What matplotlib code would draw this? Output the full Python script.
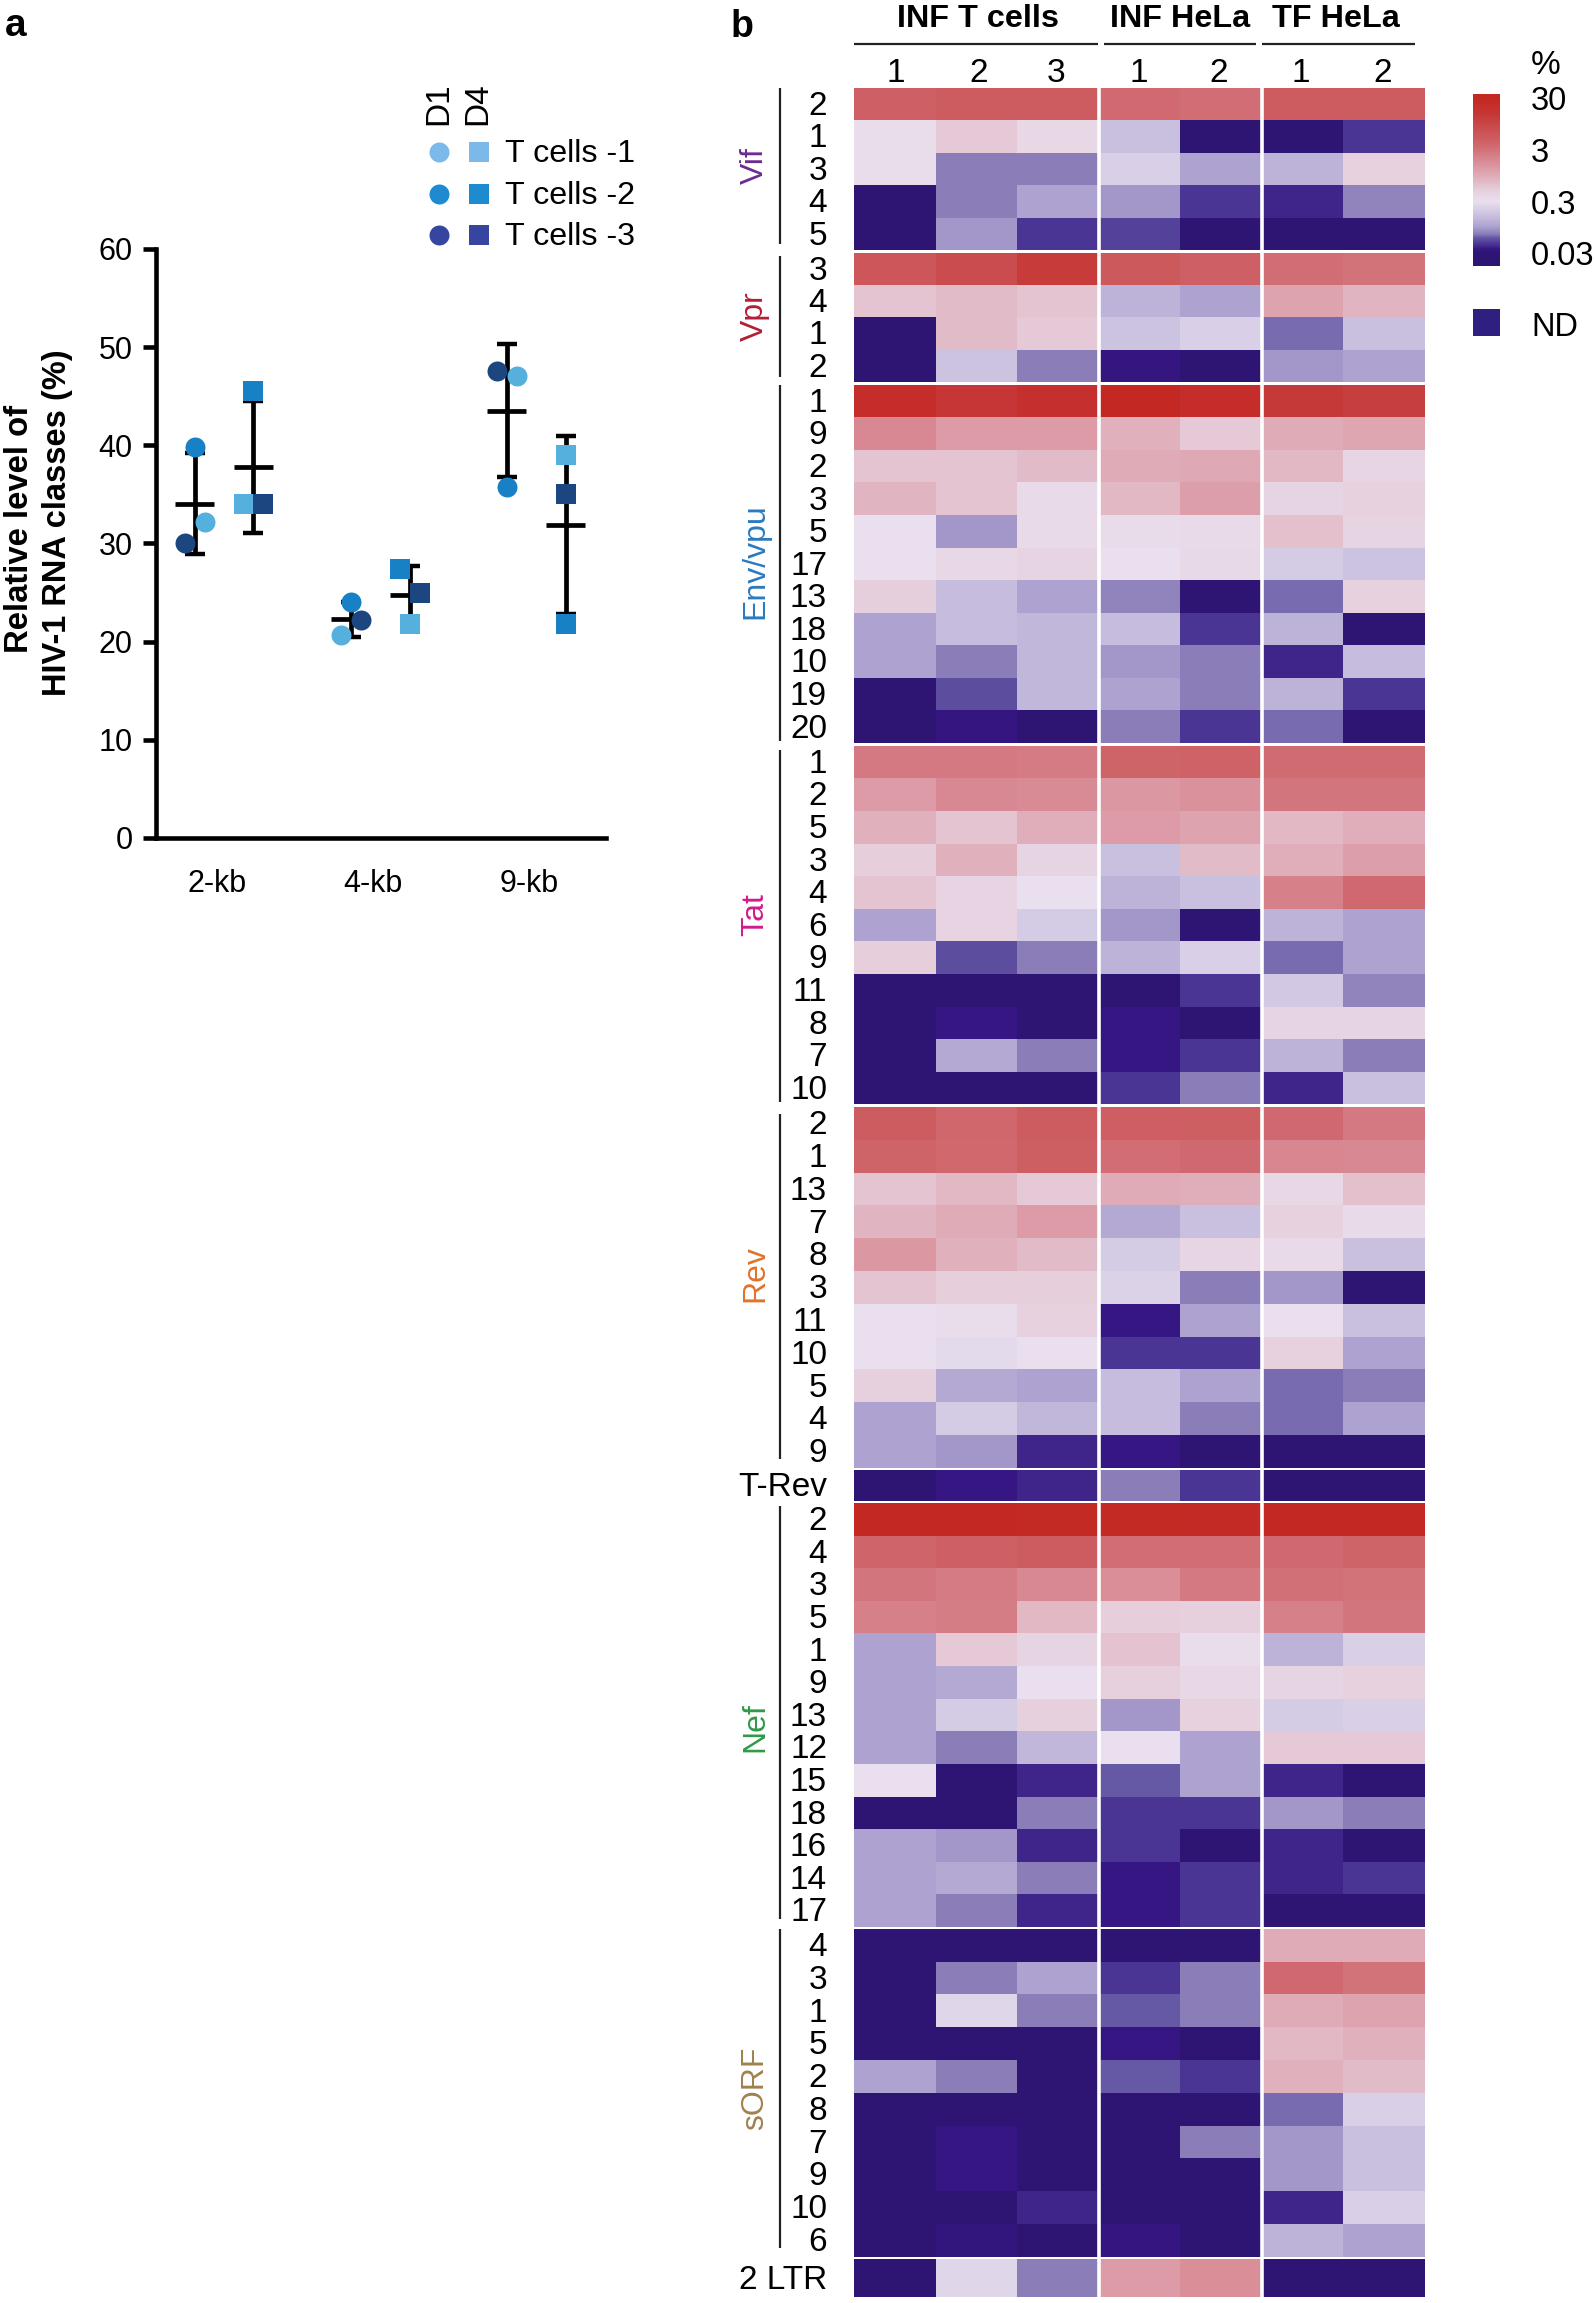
import numpy as np
import matplotlib
matplotlib.use("Agg")
import matplotlib.pyplot as plt
from matplotlib.colors import LinearSegmentedColormap, LogNorm
from matplotlib.cm import ScalarMappable
from matplotlib.lines import Line2D
from matplotlib.patches import Rectangle
from matplotlib.transforms import ScaledTranslation

plt.rcParams['font.family'] = ['Liberation Sans', 'DejaVu Sans']

W, H = 1594, 2303

# ---------- panel a data ----------
size_classes = ["2-kb", "4-kb", "9-kb"]
legend_names = ["T cells -1", "T cells -2", "T cells -3"]
d1_values = [[32.2, 39.8, 30.1], [20.7, 24.0, 22.2], [47.1, 35.8, 47.6]]
d4_values = [[34.0, 45.5, 34.0], [21.8, 27.4, 25.0], [39.0, 21.8, 35.0]]
d1_mean = [34.0, 22.3, 43.5]
d4_mean = [37.8, 24.8, 31.9]
d1_low = [28.9, 20.5, 36.8]
d1_high = [39.2, 24.0, 50.3]
d4_low = [31.1, 22.0, 22.8]
d4_high = [44.5, 27.7, 41.0]
# sideways nudge of each replicate (-1 left, 0 on the line, 1 right)
d1_nudge = [[1, 0, -1], [-1, 0, 1], [1, 0, -1]]
d4_nudge = [[-1, 0, 1], [0, -1, 1], [0, 0, 0]]

point_colors = ["#55B0DD", "#1880C4", "#1C4680"]
legend_d1_colors = ["#7AB9EA", "#1E8AD0", "#3545A0"]
legend_d4_colors = ["#7AB9EA", "#1E8AD0", "#3545A0"]

# ---------- panel b data (% of reads, one row per RNA) ----------
experiments = ["INF T cells", "INF HeLa", "TF HeLa"]
replicates = ["1", "2", "3", "1", "2", "1", "2"]

vif_rows = ["2", "1", "3", "4", "5"]
vif_vals = [[4.5, 5, 5, 3.5, 3.2, 5, 5],
            [.32, .55, .38, .16, .03, .03, .045],
            [.32, .07, .07, .22, .1, .13, .45],
            [.03, .07, .1, .09, .045, .04, .075],
            [.03, .09, .045, .05, .03, .03, .03]]

vpr_rows = ["3", "4", "1", "2"]
vpr_vals = [[6, 8, 13, 5.5, 4.5, 3.2, 3],
            [.6, .7, .6, .13, .1, 1.1, .8],
            [.03, .7, .55, .17, .22, .065, .16],
            [.03, .17, .07, .035, .03, .09, .1]]

env_rows = ["1", "9", "2", "3", "5", "17", "13", "18", "10", "19", "20"]
env_vals = [[22, 15, 20, 30, 22, 14, 12],
            [1.9, 1.3, 1.3, .85, .55, .95, 1.05],
            [.6, .6, .7, .95, 1.0, .75, .4],
            [.8, .6, .35, .75, 1.2, .42, .45],
            [.3, .09, .35, .33, .35, .65, .42],
            [.3, .38, .42, .3, .36, .2, .17],
            [.48, .15, .1, .075, .03, .065, .45],
            [.1, .15, .14, .15, .045, .13, .03],
            [.1, .07, .14, .09, .07, .04, .15],
            [.03, .055, .14, .1, .07, .13, .045],
            [.03, .035, .03, .07, .045, .065, .03]]

tat_rows = ["1", "2", "5", "3", "4", "6", "9", "11", "8", "7", "10"]
tat_vals = [[2.6, 2.6, 2.5, 4.2, 4.3, 3.4, 3.4],
            [1.3, 1.9, 1.8, 1.4, 1.6, 2.8, 2.8],
            [.85, .6, .9, 1.3, 1.1, .75, .9],
            [.5, .85, .42, .16, .7, .9, 1.2],
            [.6, .43, .3, .13, .16, 2.2, 3.6],
            [.1, .43, .2, .09, .03, .13, .1],
            [.5, .055, .07, .13, .22, .065, .1],
            [.03, .03, .03, .03, .045, .19, .075],
            [.03, .036, .03, .036, .03, .42, .42],
            [.03, .11, .07, .036, .045, .13, .07],
            [.03, .03, .03, .045, .07, .04, .16]]

rev_rows = ["2", "1", "13", "7", "8", "3", "11", "10", "5", "4", "9"]
rev_vals = [[5, 3.8, 5, 4.7, 4.8, 3.6, 2.6],
            [4.2, 3.7, 4.8, 3.3, 3.6, 2, 1.9],
            [.6, .75, .55, .95, .9, .38, .65],
            [.8, .95, 1.3, .11, .16, .45, .35],
            [1.4, .85, .7, .2, .4, .35, .16],
            [.6, .5, .5, .23, .07, .09, .03],
            [.3, .32, .45, .036, .1, .3, .16],
            [.3, .27, .3, .045, .045, .45, .1],
            [.47, .11, .1, .15, .1, .065, .07],
            [.1, .2, .14, .15, .07, .065, .1],
            [.1, .09, .04, .036, .03, .03, .03]]

trev_rows = ["T-Rev"]
trev_vals = [[.03, .036, .04, .07, .045, .03, .03]]

nef_rows = ["2", "4", "3", "5", "1", "9", "13", "12", "15", "18", "16", "14", "17"]
nef_vals = [[28, 28, 26, 26, 25, 28, 28],
            [4, 4.6, 5, 3.3, 3.3, 3.6, 4.2],
            [2.8, 2.5, 1.9, 1.7, 2.6, 3.1, 3],
            [2.2, 2.4, .75, .5, .47, 2.2, 2.8],
            [.1, .55, .42, .62, .32, .13, .22],
            [.1, .11, .3, .47, .38, .42, .46],
            [.1, .2, .47, .09, .45, .2, .22],
            [.1, .07, .14, .3, .1, .55, .55],
            [.3, .03, .04, .06, .1, .04, .03],
            [.03, .03, .07, .045, .045, .09, .07],
            [.1, .09, .04, .045, .03, .04, .03],
            [.1, .11, .07, .036, .045, .04, .045],
            [.1, .07, .04, .036, .045, .03, .03]]

sorf_rows = ["4", "3", "1", "5", "2", "8", "7", "9", "10", "6"]
sorf_vals = [[.03, .03, .03, .03, .03, .95, .95],
             [.03, .07, .1, .045, .07, 3.6, 3],
             [.03, .25, .07, .06, .07, .95, 1.1],
             [.03, .03, .03, .036, .03, .75, .85],
             [.1, .07, .03, .06, .045, .85, .7],
             [.03, .03, .03, .03, .03, .065, .22],
             [.03, .036, .03, .03, .07, .09, .16],
             [.03, .036, .03, .03, .03, .09, .16],
             [.03, .03, .04, .03, .03, .04, .22],
             [.03, .034, .03, .035, .03, .13, .1]]

ltr_rows = ["2 LTR"]
ltr_vals = [[.03, .25, .07, 1.3, 1.7, .03, .03]]

# colour scale: value -> colour
scale_values = [0.017, 0.03, 0.036, 0.045, 0.06, 0.07, 0.1, 0.16, 0.3, 0.5, 1.0, 1.8, 3.5, 5, 10, 15, 28, 36]
scale_colors = ["#2E1574", "#2E1574", "#361682", "#4A3594", "#6558A5", "#8A7DB8", "#AEA3D0", "#C9C0E0", "#E9DFEE",
                "#E6CEDB", "#DEA8B4", "#D98B95", "#D06A70", "#CD5C60", "#C84545", "#C63636", "#C42822", "#C42822"]
bar_ticks = [30, 3, 0.3, 0.03]
bar_labels = ["30", "3", "0.3", "0.03"]

norm = LogNorm(vmin=0.017, vmax=36)
cmap = LinearSegmentedColormap.from_list(
    "hiv", [(float(norm(v)), c) for v, c in zip(scale_values, scale_colors)], N=1024)


def px_axes(x0, y0, x1, y1):
    # axes from pixel box, y counted from the top
    return fig.add_axes([x0 / W, 1 - y1 / H, (x1 - x0) / W, (y1 - y0) / H])


def fig_line(x0, y0, x1, y1, lw=1.5, color='#222222'):
    fig.add_artist(Line2D([x0 / W, x1 / W], [1 - y0 / H, 1 - y1 / H], color=color, lw=lw,
                          solid_capstyle='butt'))


def fig_text(x, y, s, **kw):
    return fig.text(x / W, 1 - y / H, s, **kw)


fig = plt.figure(figsize=(W / 100, H / 100), dpi=100)

# ---------- panel a ----------
ax = px_axes(155.5, 249, 606, 838)
ax.set_ylim(0, 60)
ax.set_xlim(-0.44, 2.447)
for s in ['top', 'right']:
    ax.spines[s].set_visible(False)
for s in ['left', 'bottom']:
    ax.spines[s].set_linewidth(3.3)
ax.set_yticks(range(0, 61, 10))
ax.tick_params(axis='y', width=3.3, length=9.5, pad=7, labelsize=22)
ax.set_xticks(np.arange(3) - 0.045)
ax.set_xticklabels(size_classes)
ax.tick_params(axis='x', length=0, pad=22, labelsize=22)

day_shift = 0.188
nudge = 0.064
for i in range(3):
    for sign, mean, lo, hi, vals, nudges, marker in [
            (-1, d1_mean, d1_low, d1_high, d1_values, d1_nudge, 'o'),
            (1, d4_mean, d4_low, d4_high, d4_values, d4_nudge, 's')]:
        xc = i + sign * day_shift
        ax.errorbar(xc, mean[i], yerr=[[mean[i] - lo[i]], [hi[i] - mean[i]]], color='black',
                    elinewidth=3.4, capsize=7.2, capthick=3.2, zorder=2)
        ax.hlines(mean[i], xc - 0.125, xc + 0.125, color='black', lw=3.4, zorder=2)
        for v, n, c in zip(vals[i], nudges[i], point_colors):
            ax.scatter(xc + n * nudge, v, s=207, marker=marker, color=c, linewidths=0, zorder=3,
                       clip_on=False)

fig_text(20, 529, "Relative level of", rotation=90, ha='center', va='center',
         fontsize=23.7, fontweight='bold')
fig_text(58, 523, "HIV-1 RNA classes (%)", rotation=90, ha='center', va='center',
         fontsize=23.5, fontweight='bold')

# legend, hand placed like the original
leg = px_axes(0, 0, W, H)
leg.set_xlim(0, W)
leg.set_ylim(H, 0)
leg.axis('off')
leg.patch.set_alpha(0)
for name, y, c1, c4 in zip(legend_names, [151.6, 194, 235], legend_d1_colors, legend_d4_colors):
    leg.scatter(439, y, s=207, marker='o', color=c1, linewidths=0)
    leg.scatter(479, y, s=207, marker='s', color=c4, linewidths=0)
    leg.text(505, y + 2, name, fontsize=23.2, va='center', ha='left')
leg.text(439, 125, "D1", rotation=90, fontsize=24, ha='center', va='bottom')
leg.text(478, 125, "D4", rotation=90, fontsize=24, ha='center', va='bottom')

fig_text(5, 26, "a", fontsize=28, fontweight='bold', ha='left', va='center')
fig_text(731, 27, "b", fontsize=27, fontweight='bold', ha='left', va='center')

# ---------- panel b ----------
hm_left, hm_right = 854, 1425
blocks = [
    (vif_rows, vif_vals, 88, 250, "Vif", "#6B2C91", 166, (88, 244)),
    (vpr_rows, vpr_vals, 252.7, 382, "Vpr", "#B21F35", 316, (256, 377)),
    (env_rows, env_vals, 384.7, 743, "Env/vpu", "#2A7ABF", 561, (385, 741)),
    (tat_rows, tat_vals, 745.7, 1104.4, "Tat", "#CF1C8E", 915, (749.5, 1102)),
    (rev_rows, rev_vals, 1107, 1467.7, "Rev", "#E2722B", 1274, (1114, 1459)),
    (trev_rows, trev_vals, 1470, 1500.5, None, None, None, None),
    (nef_rows, nef_vals, 1503, 1927, "Nef", "#2E9A47", 1727, (1506, 1919)),
    (sorf_rows, sorf_vals, 1929, 2256.5, "sORF", "#A08250", 2088, (1929, 2248)),
    (ltr_rows, ltr_vals, 2259, 2297, None, None, None, None),
]

# row labels sit a little above the middle of their row
label_lift = ScaledTranslation(0, 0.012, fig.dpi_scale_trans)

for rows, vals, y0, y1, gene, color, label_y, span in blocks:
    hx = px_axes(hm_left, y0, hm_right, y1)
    data = np.array(vals, dtype=float)
    hx.pcolormesh(np.arange(data.shape[1] + 1), np.arange(data.shape[0] + 1), data,
                  cmap=cmap, norm=norm, linewidth=0, rasterized=True)
    hx.set_ylim(data.shape[0], 0)
    hx.set_yticks(np.arange(data.shape[0]) + 0.5)
    hx.set_yticklabels(rows)
    hx.set_xticks([])
    hx.tick_params(axis='y', length=0, pad=19.4, labelsize=24)
    for lab in hx.get_yticklabels():
        lab.set_transform(lab.get_transform() + label_lift)
    for s in hx.spines.values():
        s.set_visible(False)
    # white gaps between experiments
    hx.axvline(3, color='white', lw=2.6)
    hx.axvline(5, color='white', lw=2.6)
    if gene:
        fig_text(763, label_y, gene, color=color, fontsize=23, rotation=90,
                 ha='center', va='baseline', rotation_mode='anchor')
        fig_line(780, span[0], 780, span[1], lw=1.6)

# headers
for name, xc, x0, x1 in zip(experiments, [978, 1180, 1336], [854, 1103.5, 1262], [1098, 1256, 1415]):
    fig_text(xc, 19, name, fontsize=23.3, fontweight='bold', ha='center', va='center')
    fig_line(x0, 44, x1, 44, lw=1.6)
for rep, xc in zip(replicates, [895.6, 979, 1055.6, 1139, 1219, 1301, 1383]):
    fig_text(xc, 73.5, rep, fontsize=24, ha='center', va='center')

# colour bar
cax = px_axes(1473, 94, 1500, 266)
cb = fig.colorbar(ScalarMappable(norm=norm, cmap=cmap), cax=cax)
cb.outline.set_visible(False)
cb.minorticks_off()
cb.set_ticks(bar_ticks)
cb.set_ticklabels(bar_labels)
cb.ax.tick_params(length=0, pad=22, labelsize=23.5)
fig_text(1531, 65, "%", fontsize=24, ha='left', va='center')

leg.add_patch(Rectangle((1473, 309), 27, 27, color="#2E1F80", linewidth=0))
leg.text(1531, 328, "ND", fontsize=23.5, ha='left', va='center')

fig.savefig('out.png', dpi=100)
